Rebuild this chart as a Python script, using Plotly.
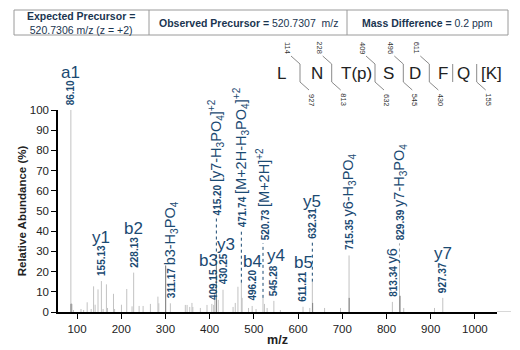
import plotly.graph_objects as go

# ---------------- data ----------------
peak_mz = [86.10, 87.2, 88.6, 92.0, 109.0, 115.0, 123.0, 132.0, 137.5, 141.0, 147.5, 155.13,
           159.0, 166.5, 169.0, 182.5, 185.0, 200.5, 212.5, 224.5, 228.13, 240.5, 249.5, 266.0,
           283.0, 285.0, 300.5, 311.17, 345.0, 349.0, 355.0, 360.0, 362.0, 379.0, 394.0, 405.0,
           409.15, 411.5, 415.20, 419.5, 430.25, 453.0, 458.0, 464.0, 471.74, 473.5, 488.0,
           496.20, 505.0, 520.73, 524.0, 530.0, 545.28, 560.0, 611.21, 626.5, 632.31, 660.0,
           696.0, 715.35, 813.34, 829.39, 831.0, 839.0, 908.6, 927.37]
peak_int = [100, 4.3, 4.0, 1.0, 1.5, 1.0, 4.8, 1.5, 12.7, 3.6, 11.2, 15.3,
            1.5, 13.7, 2.0, 9.0, 1.5, 3.6, 11.4, 2.8, 19.5, 3.0, 3.0, 4.0,
            7.6, 4.3, 23.0, 4.3, 3.5, 3.5, 2.5, 4.5, 2.5, 2.0, 3.5, 4.0,
            3.5, 7.0, 24.0, 6.0, 11.0, 2.5, 4.5, 12.5, 14.5, 7.0, 2.0,
            3.0, 1.5, 7.0, 4.0, 2.0, 5.5, 1.0, 2.6, 2.0, 15.0, 2.0,
            2.0, 28.0, 5.0, 24.0, 8.0, 2.0, 2.0, 7.0]
dark_mz = [86.4, 300.5, 415.2, 633.0, 715.6, 830.2]
dark_int = [4.0, 23.0, 24.0, 4.5, 7.0, 8.0]

# simple labels: rotated mass + horizontal ion name
simple_mz = [86.10, 155.13, 228.13, 409.15, 430.25, 496.20, 545.28, 611.21, 927.37]
simple_ion = ["a1", "y1", "b2", "b3", "y3", "b4", "y4", "b5", "y7"]

# labels joined to the peak by a dotted connector (label base value in %)
conn_mz = [415.20, 471.74, 520.73, 632.31, 829.39]
conn_base = [46.5, 40.6, 34.0, 34.7, 34.0]
conn_ion = ["[y7-H<sub>3</sub>PO<sub>4</sub>]<sup>+2</sup>",
            "[M+2H-H<sub>3</sub>PO<sub>4</sub>]<sup>+2</sup>",
            "[M+2H]<sup>+2</sup>", "", "y7-H<sub>3</sub>PO<sub>4</sub>"]
conn_top_ion = ["", "", "", "y5", ""]

# inline rotated labels
inline_mz = [311.17, 715.35, 813.34]
inline_ion = ["b3-H<sub>3</sub>PO<sub>4</sub>", "y6-H<sub>3</sub>PO<sub>4</sub>", "y6"]

x_ticks = [100, 200, 300, 400, 500, 600, 700, 800, 900, 1000]
y_ticks = [0, 10, 20, 30, 40, 50, 60, 70, 80, 90, 100]

sequence = ["L", "N", "T(p)", "S", "D", "F", "Q", "[K]"]
b_ions = ["114", "228", "409", "496", "611", "", ""]
y_ions = ["927", "813", "632", "545", "430", "", "155"]

header_cells = ["<b>Expected Precursor =</b><br>520.7306 m/z (z = +2)",
                "<b>Observed Precursor =</b> 520.7307  m/z",
                "<b>Mass Difference =</b> 0.2 ppm"]

# ---------------- style ----------------
BLUE = "#1b4a72"
FONT = "Liberation Sans, Arial, Helvetica, sans-serif"
L, R, T, B = 58, 497, 110, 312
W, H = 520, 350


def xp(px):
    return (px - L) / (R - L)


def yp(py):
    return (B - py) / (B - T)


def height_of(m):
    return peak_int[peak_mz.index(m)]


def stems(xs, ys):
    sx, sy = [], []
    for a, b in zip(xs, ys):
        sx += [a, a, None]
        sy += [0, b, None]
    return sx, sy


fig = go.Figure()
sx, sy = stems(peak_mz, peak_int)
fig.add_trace(go.Scatter(x=sx, y=sy, mode="lines", line=dict(color="#c2c2c2", width=1),
                         hoverinfo="skip", showlegend=False))
dx, dy = stems(dark_mz, dark_int)
fig.add_trace(go.Scatter(x=dx, y=dy, mode="lines", line=dict(color="#808080", width=1),
                         hoverinfo="skip", showlegend=False))

# dotted connectors
cx, cy, gx, gy = [], [], [], []
for m, base in zip(conn_mz, conn_base):
    h = height_of(m)
    if m == 829.39:
        gx += [m, m, None]
        gy += [h, base, None]
    else:
        cx += [m, m, None]
        cy += [h, base, None]
fig.add_trace(go.Scatter(x=cx, y=cy, mode="lines", line=dict(color=BLUE, width=1, dash="dot"),
                         hoverinfo="skip", showlegend=False))
fig.add_trace(go.Scatter(x=gx, y=gy, mode="lines", line=dict(color="#aaaaaa", width=1, dash="dot"),
                         hoverinfo="skip", showlegend=False))

ann = []
ION_FONT = dict(family=FONT, size=17, color=BLUE)
MASS_FONT = dict(family=FONT, size=10, color=BLUE)
ROT_ION = "<span style='font-size:14.5px'>%s</span>"

ion_shift = {"a1": (0, 38), "b3": (-5, 44), "y3": (3, 45), "y4": (2, 45)}
for m, ion in zip(simple_mz, simple_ion):
    h = height_of(m)
    ann.append(dict(x=m, y=h, xref="x", yref="y", text="<b>%.2f</b>" % m, textangle=-90,
                    showarrow=False, xanchor="center", yanchor="bottom", yshift=3, font=MASS_FONT))
    xs, ys = ion_shift.get(ion, (0, 44))
    ann.append(dict(x=m, y=h, xref="x", yref="y", text=ion, showarrow=False,
                    xanchor="center", yanchor="middle", xshift=xs, yshift=ys, font=ION_FONT))

for m, base, ion, top in zip(conn_mz, conn_base, conn_ion, conn_top_ion):
    txt = "<b>%.2f</b>" % m
    if ion:
        txt += " " + ROT_ION % ion
    ann.append(dict(x=m, y=base, xref="x", yref="y", text=txt, textangle=-90,
                    showarrow=False, xanchor="center", yanchor="bottom", yshift=1, font=MASS_FONT))
    if top:
        ann.append(dict(x=m, y=base, xref="x", yref="y", text=top, showarrow=False,
                        xanchor="center", yanchor="middle", yshift=40, font=ION_FONT))

for m, ion in zip(inline_mz, inline_ion):
    h = height_of(m)
    txt = "<b>%.2f</b> " % m + ROT_ION % ion
    ann.append(dict(x=m, y=h, xref="x", yref="y", text=txt, textangle=-90,
                    showarrow=False, xanchor="center", yanchor="bottom", yshift=3, font=MASS_FONT))

shapes = []
# header table
shapes.append(dict(type="rect", xref="paper", yref="paper", x0=xp(14), x1=xp(508), y0=yp(35), y1=yp(10),
                   line=dict(color="#9a9a9a", width=1), fillcolor="white"))
for px in (149, 347):
    shapes.append(dict(type="line", xref="paper", yref="paper", x0=xp(px), x1=xp(px), y0=yp(35), y1=yp(10),
                       line=dict(color="#9a9a9a", width=1)))
HEAD_FONT = dict(family=FONT, size=10.5, color="#1a3550")
for cx_px, txt in zip((81, 248, 427), header_cells):
    ann.append(dict(x=xp(cx_px), y=yp(22.5), xref="paper", yref="paper", text=txt, showarrow=False,
                    xanchor="center", yanchor="middle", font=HEAD_FONT))

# sequence
letter_px = [281.7, 316.7, 356.7, 388.3, 415, 443.3, 463.3, 491.7]
div_px = [300, 331.7, 375, 403.3, 429.3, 452.7, 476.7]
for px, s in zip(letter_px, sequence):
    ann.append(dict(x=xp(px), y=yp(73), xref="paper", yref="paper", text=s, showarrow=False,
                    xanchor="center", yanchor="middle",
                    font=dict(family=FONT, size=17, color="#222222")))
GL = dict(color="#8a8a8a", width=1)
SMALL = dict(family=FONT, size=7.5, color="#333333")
for px, bi, yi in zip(div_px, b_ions, y_ions):
    shapes.append(dict(type="line", xref="paper", yref="paper", x0=xp(px), x1=xp(px), y0=yp(64), y1=yp(82), line=GL))
    if bi:
        shapes.append(dict(type="line", xref="paper", yref="paper", x0=xp(px - 9), x1=xp(px), y0=yp(56), y1=yp(64), line=GL))
        ann.append(dict(x=xp(px - 13), y=yp(48), xref="paper", yref="paper", text=bi, textangle=90,
                        showarrow=False, xanchor="center", yanchor="middle", font=SMALL))
    if yi:
        shapes.append(dict(type="line", xref="paper", yref="paper", x0=xp(px), x1=xp(px + 9), y0=yp(82), y1=yp(90), line=GL))
        ann.append(dict(x=xp(px + 11), y=yp(100), xref="paper", yref="paper", text=yi, textangle=90,
                        showarrow=False, xanchor="center", yanchor="middle", font=SMALL))

# baseline extension
shapes.append(dict(type="line", xref="paper", yref="y", x0=1, x1=xp(511), y0=0, y1=0,
                   line=dict(color="#b0b0b0", width=1)))

AXF = dict(family=FONT, size=11.5, color="#222222")
TITF = dict(family=FONT, size=11.5, color="#222222")
fig.update_layout(
    width=W, height=H, margin=dict(l=L, r=W - R, t=T, b=H - B, autoexpand=False),
    paper_bgcolor="white", plot_bgcolor="white",
    annotations=ann, shapes=shapes, showlegend=False,
    xaxis=dict(range=[57, 1050], tickvals=x_ticks, ticks="outside", ticklen=5, tickwidth=1,
               tickcolor="black", showline=True, linecolor="black", linewidth=1.5, showgrid=False,
               zeroline=False, tickfont=AXF, automargin=False,
               title=dict(text="<b>m/z</b>", font=dict(family=FONT, size=12.5, color="#222222"), standoff=2)),
    yaxis=dict(range=[0, 100], tickvals=y_ticks, ticks="outside", ticklen=5, tickwidth=1,
               tickcolor="black", showline=True, linecolor="black", linewidth=1.5, showgrid=False,
               zeroline=False, tickfont=AXF, automargin=False,
               title=dict(text="<b>Relative Abundance (%)</b>", font=TITF, standoff=1)),
)

fig.write_html("out.html")
